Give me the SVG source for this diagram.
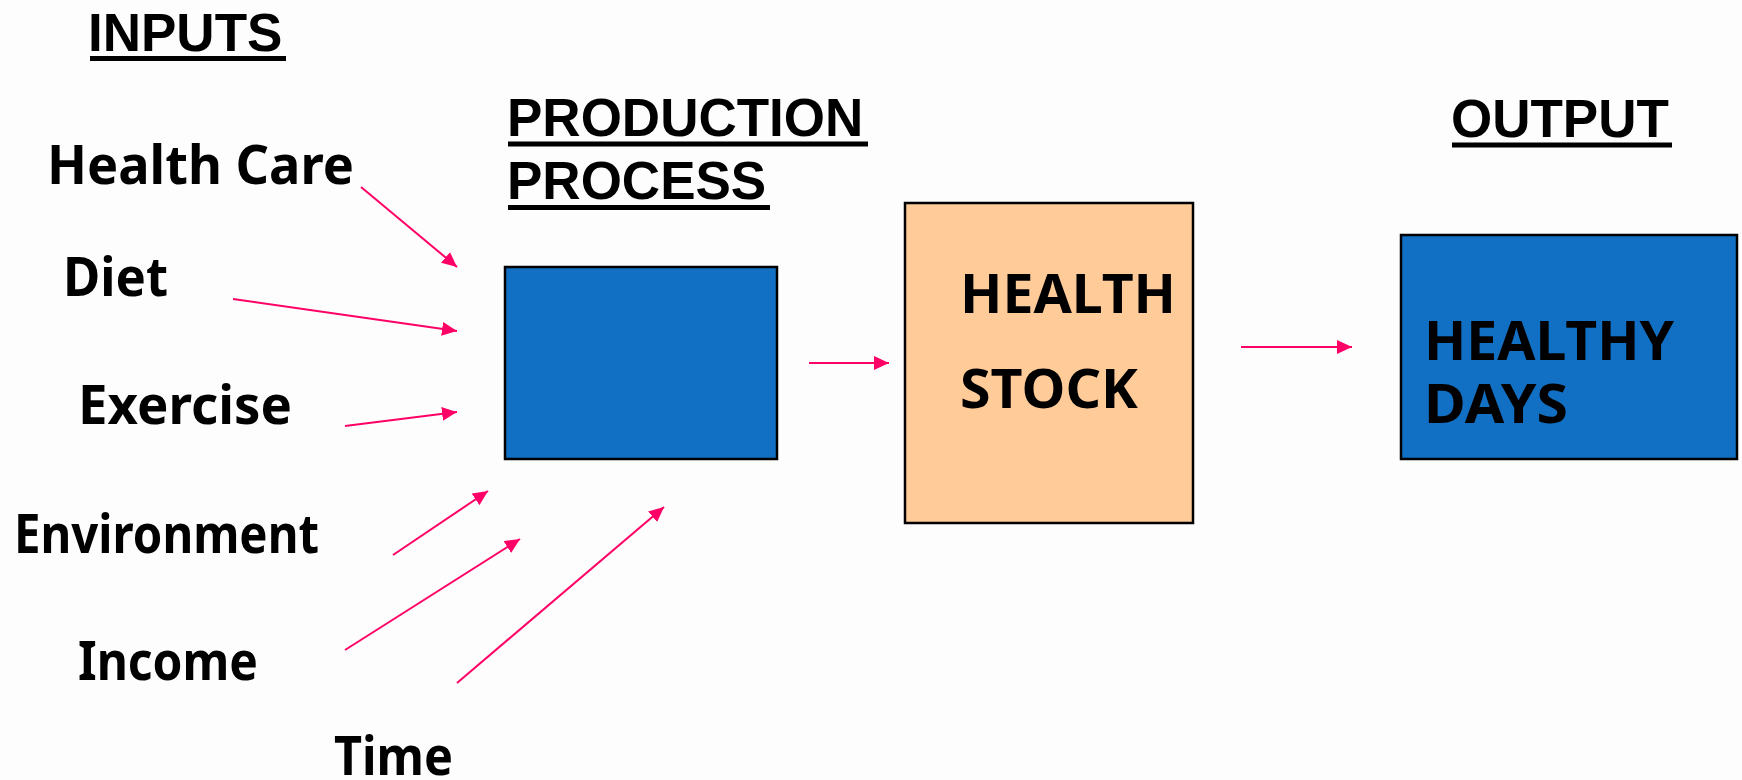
<svg xmlns="http://www.w3.org/2000/svg" width="1742" height="780" viewBox="0 0 1742 780">
<style>
.head{font-family:"Liberation Sans",Arial,sans-serif;font-weight:bold;font-size:53px;fill:#000}
.lbl{font-family:"Comic Sans MS","Noto Sans","DejaVu Sans",sans-serif;font-weight:bold;font-size:54px;fill:#000}
.ul{fill:#000}
.box{stroke:#000;stroke-width:2.5}
.blue{fill:#1170C4}
.peach{fill:#FFCC99}
.arr{stroke:#FF0066;stroke-width:2;fill:none;marker-end:url(#ah)}
</style>
<defs>
<marker id="ah" markerUnits="userSpaceOnUse" markerWidth="16" markerHeight="14" refX="15" refY="7" orient="auto">
<path d="M0,0 L15,7 L0,14 z" fill="#FF0066"/>
</marker>
</defs>
<rect width="1742" height="780" fill="#fdfdfd"/>
<g id="headings">
<text class="head" x="88" y="51">INPUTS</text>
<rect class="ul" x="90" y="56" width="196" height="5"/>
<text class="head" x="507" y="136">PRODUCTION</text>
<rect class="ul" x="508" y="141.5" width="360" height="5"/>
<text class="head" x="507" y="199">PROCESS</text>
<rect class="ul" x="508" y="205" width="262" height="5"/>
<text class="head" x="1451" y="137">OUTPUT</text>
<rect class="ul" x="1452" y="142.5" width="220" height="5"/>
</g>
<g id="input-health-care"><text class="lbl" x="47" y="184" textLength="307" lengthAdjust="spacingAndGlyphs">Health Care</text></g>
<g id="input-diet"><text class="lbl" x="63" y="296" textLength="105" lengthAdjust="spacingAndGlyphs">Diet</text></g>
<g id="input-exercise"><text class="lbl" x="78" y="424" textLength="214" lengthAdjust="spacingAndGlyphs">Exercise</text></g>
<g id="input-environment"><text class="lbl" x="14" y="553" textLength="305" lengthAdjust="spacingAndGlyphs">Environment</text></g>
<g id="input-income"><text class="lbl" x="78" y="680" textLength="180" lengthAdjust="spacingAndGlyphs">Income</text></g>
<g id="input-time"><text class="lbl" x="334" y="775" textLength="119" lengthAdjust="spacingAndGlyphs">Time</text></g>
<g id="production-process"><rect class="box blue" x="505" y="267" width="272" height="192"/></g>
<g id="health-stock">
<rect class="box peach" x="905" y="203" width="288" height="320"/>
<text class="lbl" x="960" y="313" textLength="216" lengthAdjust="spacingAndGlyphs">HEALTH</text>
<text class="lbl" x="960" y="408" textLength="178" lengthAdjust="spacingAndGlyphs">STOCK</text>
</g>
<g id="healthy-days">
<rect class="box blue" x="1401" y="235" width="336" height="224"/>
<text class="lbl" x="1424" y="360" textLength="250" lengthAdjust="spacingAndGlyphs">HEALTHY</text>
<text class="lbl" x="1424" y="423" textLength="144" lengthAdjust="spacingAndGlyphs">DAYS</text>
</g>
<g id="connectors">
<line class="arr" x1="361" y1="187" x2="457" y2="267"/>
<line class="arr" x1="233" y1="299" x2="457" y2="331"/>
<line class="arr" x1="345" y1="426" x2="457" y2="412"/>
<line class="arr" x1="393" y1="555" x2="488" y2="491"/>
<line class="arr" x1="345" y1="650" x2="520" y2="539"/>
<line class="arr" x1="457" y1="683" x2="664" y2="507"/>
<line class="arr" x1="809" y1="363" x2="889" y2="363"/>
<line class="arr" x1="1241" y1="347" x2="1352" y2="347"/>
</g>
</svg>
